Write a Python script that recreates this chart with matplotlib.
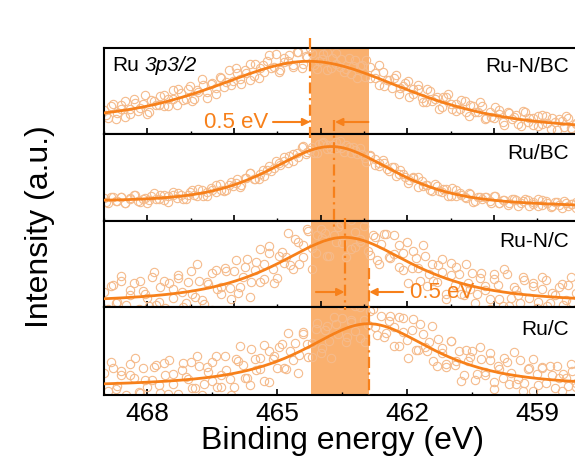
import numpy as np
import matplotlib.pyplot as plt
from matplotlib.ticker import MultipleLocator

plt.rcParams['font.family'] = ['Liberation Sans', 'DejaVu Sans']

# Ru 3p3/2 spectra, fitted peaks (top to bottom)
samples = ['Ru-N/BC', 'Ru/BC', 'Ru-N/C', 'Ru/C']
centers = [464.24, 463.75, 463.45, 462.90]
hwhm = [2.6, 1.7, 1.9, 1.8]
eta = [0.5, 0.6, 0.8, 0.8]
amps = [0.76, 0.68, 0.78, 0.73]
bg_left = [0.12, 0.20, 0.03, 0.08]
bg_right = [0.04, 0.15, 0.03, 0.08]

# raw counts as deviation from the fit (x 0.01), two interleaved scans per sample
res1 = [4,-6,9,-2,7,-8,1,11,-4,3,-9,6,-1,8,-5,2,12,-7,5,-3,10,-6,0,7,-10,4,-2,9,-5,13,
        -1,6,-8,3,11,-4,-9,5,8,-2,14,-6,2,9,-3,12,-7,6,15,-4,1,10,-8,7,13,-2,-6,11,4,-9,
        8,16,-3,5,-7,9,2,-5,12,-1,7,-8,4,10,-3,-6,8,1,-9,6,11,-4,3,-2,9,-7,5,0,8,-5,
        -3,10,2,-6,7,-1,4,-8,9,3,-4,6,-2,8,-7,1,5,-3,7,-5,2,-1]
res1b = [-3,7,-9,2,10,-5,6,-1,13,-7,4,-2,9,-6,1,11,-4,8,-8,3,14,-3,5,-10,7,0,-5,12,-2,6,
         -7,9,3,-4,15,-1,-8,7,2,-6,11,-3,5,10,-9,4,13,-5,1,8,-2,-7,12,6,-4,9,-1,16,-6,3,
         7,-9,2,11,-3,5,-8,10,-2,4,-6,8,1,-5,9,-4,6,-1,12,-7,3,-3,7,-9,5,2,-6,10,-2,4,
         -5,8,-1,6,-8,3,9,-4,1,-7]
res2 = [2,-3,4,-1,3,-4,1,5,-2,0,-5,3,-1,4,-3,2,6,-2,1,-4,3,-1,5,-3,0,4,-2,6,-4,2,
        -1,5,-3,3,7,-2,-5,4,1,-3,6,-1,2,5,-4,3,8,-2,1,-5,4,6,-3,2,-1,7,-4,3,5,-2,
        1,-6,4,2,-3,6,-1,3,-4,5,0,-2,4,-5,3,1,-3,5,-1,2,-4,6,-2,3,-1,4,-5,2,0,3,
        -3,5,-2,1,-4,3,2,-1,4,-3,1,5,-2,3,-4,2,-1,4,-2,1,3,-3]
res2b = [-2,4,-1,3,-4,2,5,-3,1,-2,6,-1,3,-5,2,4,-3,0,5,-2,3,-4,1,6,-1,-3,4,2,-5,3,
         7,-2,1,-4,5,-1,2,6,-3,4,-2,8,-1,3,-5,5,2,-3,6,-1,4,-4,2,7,-2,3,-5,1,4,-3,
         5,-1,2,-6,3,6,-2,1,-4,4,-1,3,-3,5,0,-2,4,-4,2,3,-1,5,-3,1,-2,4,-4,2,3,-1,
         -3,4,1,-2,3,-4,2,1,-3,2]
res3 = [8,-12,15,-4,20,-9,3,17,-14,6,-2,22,-11,9,-16,13,-5,18,1,-13,24,-7,10,-18,5,16,-3,-10,19,-6,
        12,-15,2,21,-8,14,-12,7,25,-4,-17,11,3,-9,18,-14,6,20,-2,-11,15,9,-19,4,13,-6,22,-13,8,-3,
        17,-10,11,-16,5,19,-7,1,14,-12,23,-5,9,-15,16,-2,-9,12,6,-18,20,-4,10,-13,3,15,-8,18,-1,-11,
        13,7,-16,21,-6,4,-10,17,-3,11,-14,8,19,-7,2,12,-9,15,-5,6,-2]
res3b = [-20,14,-6,26,-15,9,-25,18,3,-12,28,-8,16,-22,6,21,-17,11,-4,30,-13,7,-26,19,-2,15,-19,24,-9,12,
         -24,5,27,-11,17,-21,8,-3,29,-16,13,-7,22,-27,10,4,-18,25,-5,16,-23,20,-10,1,26,-14,9,-20,18,-6,
         23,-12,7,-25,15,-2,28,-17,11,-8,21,-24,6,17,-13,24,-4,-19,12,3,-22,19,-9,27,-15,8,-1,20,-26,14,
         -7,22,-11,5,-18,16,-3,25,-14,10]
res4 = [12,-8,18,-3,9,-14,22,5,-11,16,-6,2,19,-13,7,24,-4,-16,11,3,20,-10,14,-7,6,17,-12,1,21,-5,
        -15,13,8,-9,23,-2,10,-17,15,4,-8,18,-13,6,12,-4,20,-11,2,16,-14,9,-6,19,-3,13,-10,7,22,-15,
        5,-1,17,-12,11,-7,14,3,-16,18,-5,9,-11,21,-2,6,-13,15,1,-9,19,-6,12,-14,4,17,-8,10,-3,20,
        -12,7,-5,14,2,-10,18,-7,11,-15,5,13,-4,16,-9,3,8,-6,12,-2,9]
res4b = [-18,25,-6,14,-22,9,28,-12,3,-25,17,-4,21,-15,8,-27,19,1,-10,26,-19,12,-5,23,-13,6,-24,16,30,-8,
         -17,11,-2,24,-20,7,15,-11,27,-6,-23,18,4,-14,22,-9,13,-26,10,29,-16,5,-7,20,-21,14,-3,25,-12,8,
         -19,17,2,-24,23,-10,11,-5,26,-17,6,-13,19,-1,-22,15,9,-15,24,-7,12,-20,4,18,-11,27,-3,-16,10,21,
         -8,13,-25,6,16,-12,3,19,-6,11]
residuals = [(res1, res1b), (res2, res2b), (res3, res3b), (res4, res4b)]

peak_marks = [464.24, 463.70, 463.45, 462.88]
band = (464.22, 462.88)
xmin, xmax = 469.0, 458.0

line_c = '#f7801a'
pt_c = '#f5bb8c'
band_c = '#fab06e'


def model(x, i):
    d = (x - centers[i]) / hwhm[i]
    lor = 1 / (1 + d**2)
    gau = np.exp(-np.log(2) * d**2)
    bg = bg_right[i] + (bg_left[i] - bg_right[i]) * (x - xmax) / (xmin - xmax)
    return bg + amps[i] * (eta[i] * lor + (1 - eta[i]) * gau)


W, H = 575, 461
fig = plt.figure(figsize=(W / 100, H / 100), dpi=100)
left_px, right_px = 104, 580.7
edges = [48, 134, 221, 307, 395]
lab_y = [0.78, 0.78, 0.76, 0.74]

axes = []
for i in range(4):
    ax = fig.add_axes([left_px / W, 1 - edges[i + 1] / H, (right_px - left_px) / W,
                       (edges[i + 1] - edges[i]) / H])
    ax.set_xlim(xmin, xmax)
    ax.set_ylim(0, 1)
    ax.axvspan(band[0], band[1], color=band_c, lw=0, zorder=0)
    for k, scan in enumerate(residuals[i]):
        r = np.array(scan) / 100
        xs = np.linspace(xmin - 0.05 * k, xmax, len(r))
        ax.plot(xs, model(xs, i) + r, 'o', ms=6, mfc='none', mec=pt_c, mew=0.8, zorder=2)
    xf = np.linspace(xmin, xmax, 400)
    ax.plot(xf, model(xf, i), '-', color=line_c, lw=2, zorder=3)
    ax.text(0.975, lab_y[i], samples[i], ha='right', va='center',
            transform=ax.transAxes, fontsize=15)
    ax.set_yticks([])
    for s in ax.spines.values():
        s.set_linewidth(1.5)
    if i < 3:
        ax.xaxis.set_major_locator(MultipleLocator(2))
        ax.xaxis.set_minor_locator(MultipleLocator(1))
        ax.tick_params(axis='x', which='both', labelbottom=False)
    else:
        ax.xaxis.set_major_locator(MultipleLocator(3))
        ax.xaxis.set_minor_locator(MultipleLocator(1.5))
        ax.tick_params(axis='x', labelsize=19, pad=5)
        ax.set_xlabel('Binding energy (eV)', fontsize=23, labelpad=0)
    ax.tick_params(axis='x', which='major', direction='in', length=4, width=1.2)
    ax.tick_params(axis='x', which='minor', direction='in', length=2, width=1)
    axes.append(ax)

t_ru = axes[0].text(0.017, 0.80, 'Ru', ha='left', va='center',
                    transform=axes[0].transAxes, fontsize=15)
axes[0].annotate('3p3/2', xy=(1, 0.5), xycoords=t_ru, xytext=(4, 0),
                 textcoords='offset points', ha='left', va='center',
                 fontsize=15, style='italic')

fig.text(40 / W, 1 - 227 / H, 'Intensity (a.u.)', rotation=90,
         ha='center', va='center', fontsize=23)

# overlay in pixel rows for the shift markers
ov = fig.add_axes([left_px / W, 0, (right_px - left_px) / W, 1])
ov.set_xlim(xmin, xmax)
ov.set_ylim(H, 0)
ov.axis('off')
ov.set_zorder(5)
vspan = [(38, 140), (120, 228), (218, 310), (268, 395)]
for xv, (y0, y1) in zip(peak_marks, vspan):
    ov.plot([xv, xv], [y0, y1], color=line_c, lw=1.6,
            ls=(0, (5, 2, 1, 2)), clip_on=False)

aprops = dict(arrowstyle='-|>', color=line_c, lw=1.5,
              mutation_scale=11, shrinkA=0, shrinkB=0)
ov.annotate('', xy=(peak_marks[0], 122), xytext=(465.10, 122), arrowprops=aprops)
ov.annotate('', xy=(peak_marks[1] - 0.03, 122), xytext=(462.90, 122), arrowprops=aprops)
ov.text(465.22, 122, '0.5 eV', color=line_c, fontsize=16, ha='right', va='center')
ov.annotate('', xy=(peak_marks[2], 292), xytext=(464.11, 292), arrowprops=aprops)
ov.annotate('', xy=(peak_marks[3], 292), xytext=(462.10, 292), arrowprops=aprops)
ov.text(461.95, 292, '0.5 eV', color=line_c, fontsize=16, ha='left', va='center')

fig.savefig('out.png', dpi=100)
